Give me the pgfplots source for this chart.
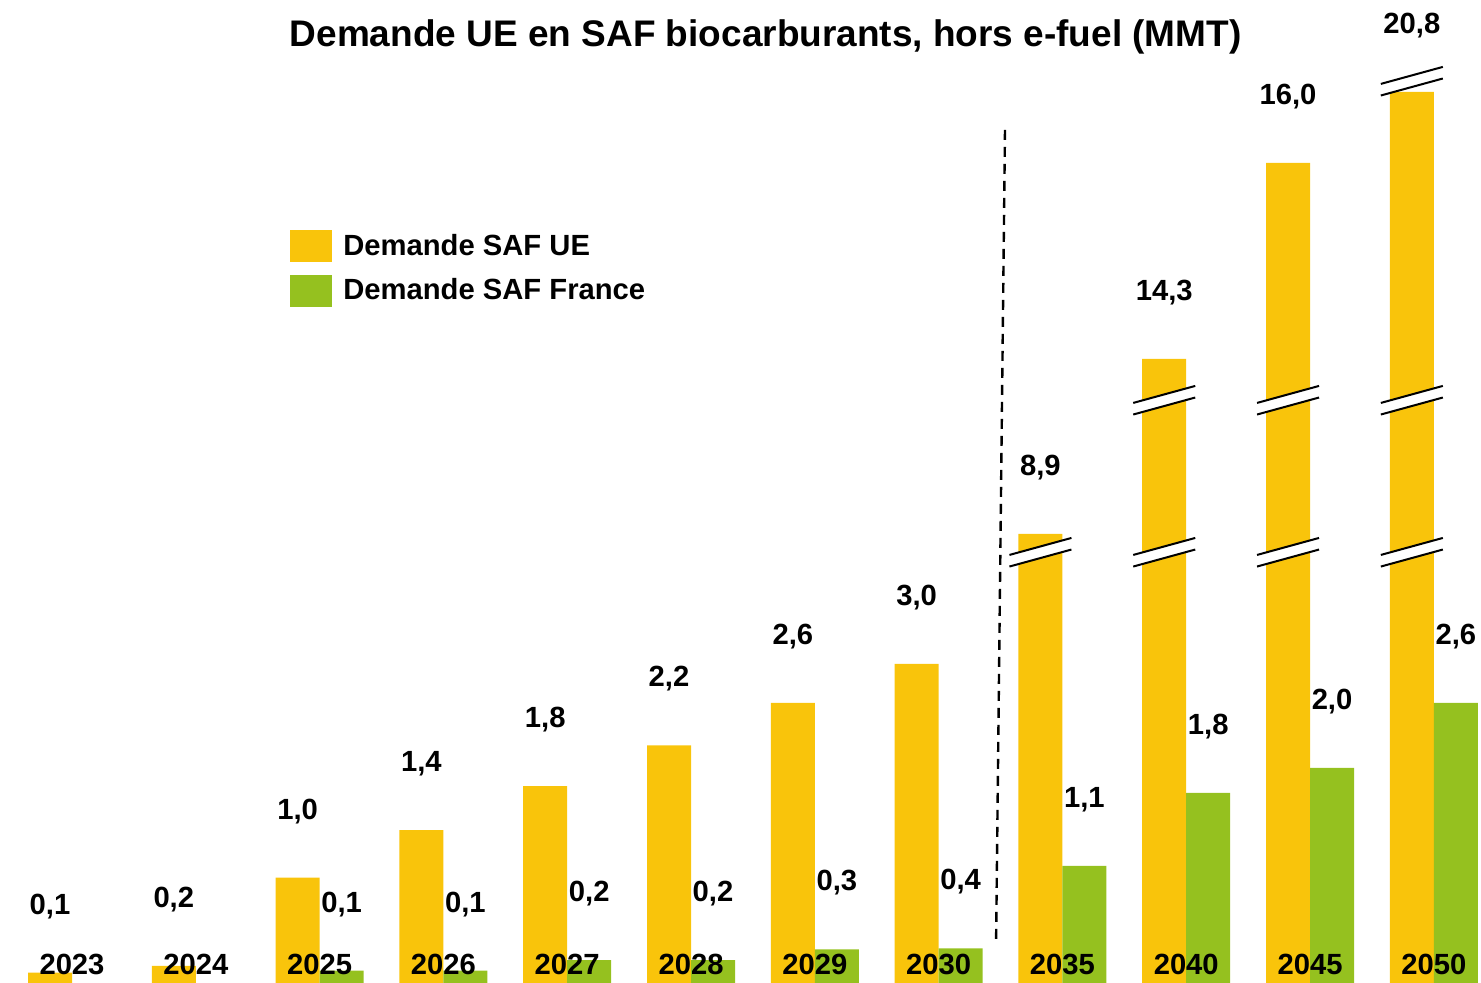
\documentclass[border=0pt]{standalone}
\usepackage{fontspec}
\setmainfont{Liberation Sans}
\usepackage{pgfplots}
\pgfplotsset{compat=1.18}
\definecolor{safue}{RGB}{249,196,11}
\definecolor{saffr}{RGB}{149,193,31}

% bar heights as drawn (broken scale after 2030), labels carry the real values
\pgfplotstableread{
x  h      lab
0  0.097  {0,1}
1  0.160  {0,2}
2  0.991  {1,0}
3  1.439  {1,4}
4  1.853  {1,8}
5  2.236  {2,2}
6  2.634  {2,6}
7  3.001  {3,0}
8  4.224  {8,9}
9  5.870  {14,3}
10 7.714  {16,0}
11 8.382  {20,8}
}\ue
\pgfplotstableread{
x  h      lab
2  0.116  {0,1}
3  0.116  {0,1}
4  0.216  {0,2}
5  0.216  {0,2}
6  0.317  {0,3}
7  0.326  {0,4}
8  1.102  {1,1}
9  1.789  {1,8}
10 2.023  {2,0}
11 2.634  {2,6}
}\fr

\newcommand{\lbl}{\bfseries\fontsize{14.6}{17}\selectfont}
% axis break on the UE bar of category #1 at height #2
\newcommand{\brk}[2]{%
  \begin{scope}[shift={(axis cs:#1,#2)},xshift=-11pt]
    \fill[white] (-15.5pt,-7.15pt) -- (15.5pt,1.35pt) -- (15.5pt,7.15pt) -- (-15.5pt,-1.35pt) -- cycle;
    \draw[black,line width=1pt] (-15.5pt,-1.35pt) -- (15.5pt,7.15pt);
    \draw[black,line width=1pt] (-15.5pt,-7.15pt) -- (15.5pt,1.35pt);
  \end{scope}}
% year label, written over the bars
\newcommand{\yr}[2]{\node[font=\lbl, anchor=base, inner sep=0pt, yshift=4pt] at (axis cs:#1,0) {#2};}

\begin{document}
\begin{tikzpicture}
\begin{axis}[
  scale only axis, width=740.5pt, height=491.5pt,
  xmin=-0.5816, xmax=11.381, ymin=0, ymax=9.247,
  ybar=0pt, bar width=22pt,
  axis line style={draw=none}, tick style={draw=none},
  ytick=\empty, xtick=\empty,
  nodes near coords={\pgfplotspointmeta},
  point meta=explicit symbolic,
  every node near coord/.append style={font=\lbl, anchor=base, yshift=29.25pt, inner sep=0pt},
  clip=false,
  legend style={at={(rel axis cs:0.1958,0.766)}, anchor=north west,
    draw=none, fill=none, inner sep=0pt, font=\lbl, row sep=6pt,
    cells={anchor=west},
    /tikz/every odd column/.style={column sep=3.5pt}},
  legend image code/.code={\fill[#1] (0pt,-8pt) rectangle (21pt,8pt);},
]
\addplot[fill=safue, draw=none] table[x=x, y=h, meta=lab] {\ue};
\addplot[fill=saffr, draw=none] table[x=x, y=h, meta=lab] {\fr};
\legend{Demande SAF UE, Demande SAF France}

\draw[black, line width=1.2pt, dash pattern=on 5pt off 3.5pt]
  (axis cs:7.536,8.025) -- (axis cs:7.464,0.376);

\brk{8}{4.052}
\brk{9}{4.052}\brk{9}{5.482}
\brk{10}{4.052}\brk{10}{5.482}
\brk{11}{4.052}\brk{11}{5.482}\brk{11}{8.483}

\yr{0}{2023}\yr{1}{2024}\yr{2}{2025}\yr{3}{2026}
\yr{4}{2027}\yr{5}{2028}\yr{6}{2029}\yr{7}{2030}
\yr{8}{2035}\yr{9}{2040}\yr{10}{2045}\yr{11}{2050}

\node[anchor=base, font=\bfseries\fontsize{18.5}{22}\selectfont]
  at (rel axis cs:0.517,0.9522) {Demande UE en SAF biocarburants, hors e-fuel (MMT)};
\end{axis}
\end{tikzpicture}
\end{document}
